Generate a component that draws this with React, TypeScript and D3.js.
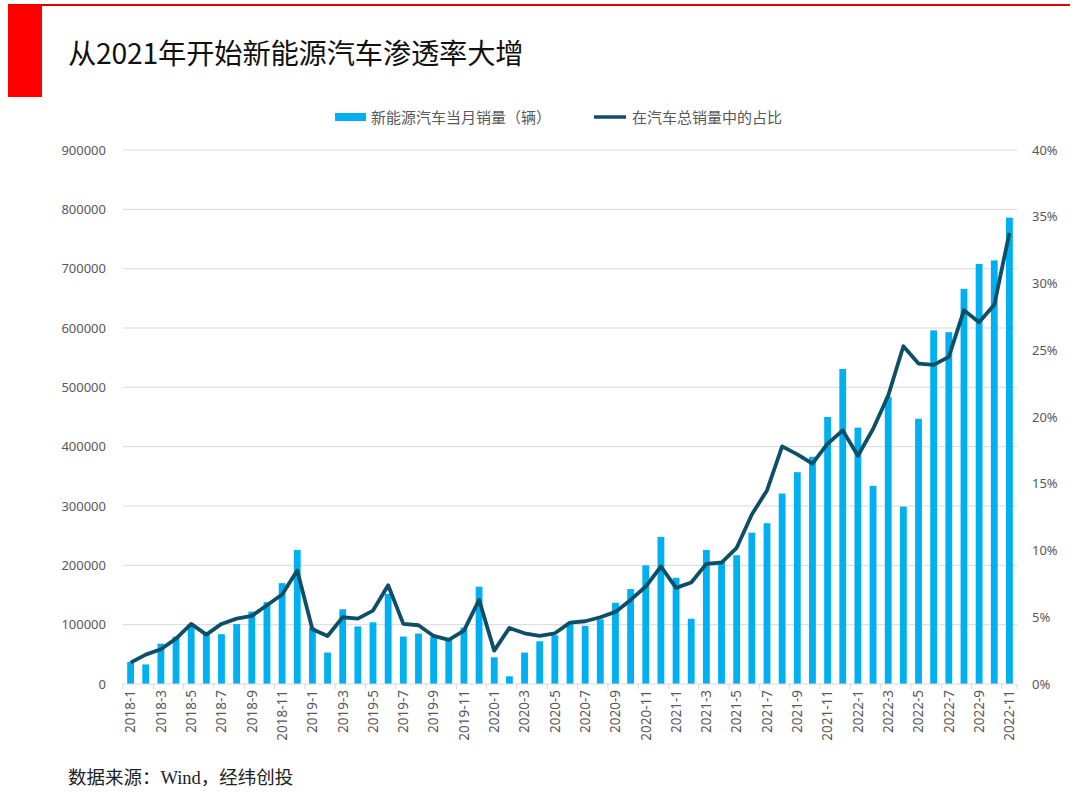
import React from 'react';
import * as d3 from 'd3';

const months = [
  '2018-1', '2018-2', '2018-3', '2018-4', '2018-5', '2018-6', '2018-7', '2018-8', '2018-9', '2018-10', '2018-11', '2018-12',
  '2019-1', '2019-2', '2019-3', '2019-4', '2019-5', '2019-6', '2019-7', '2019-8', '2019-9', '2019-10', '2019-11', '2019-12',
  '2020-1', '2020-2', '2020-3', '2020-4', '2020-5', '2020-6', '2020-7', '2020-8', '2020-9', '2020-10', '2020-11', '2020-12',
  '2021-1', '2021-2', '2021-3', '2021-4', '2021-5', '2021-6', '2021-7', '2021-8', '2021-9', '2021-10', '2021-11', '2021-12',
  '2022-1', '2022-2', '2022-3', '2022-4', '2022-5', '2022-6', '2022-7', '2022-8', '2022-9', '2022-10', '2022-11',
];

// 新能源汽车当月销量（辆）
const sales = [
  37000, 33000, 68000, 80000, 100000, 85000, 84000, 101000, 122000, 138000, 170000, 226000,
  95000, 53000, 126000, 97000, 104000, 152000, 80000, 85000, 80000, 75000, 95000, 164000,
  45000, 13000, 53000, 72000, 82000, 104000, 98000, 109000, 137000, 160000, 200000, 248000,
  179000, 110000, 226000, 206000, 217000, 255000, 271000, 321000, 357000, 383000, 450000, 531000,
  432000, 334000, 484000, 299000, 447000, 596000, 593000, 666000, 708000, 714000, 786000,
];

// 在汽车总销量中的占比 (%)
const share = [
  1.6, 2.2, 2.6, 3.4, 4.5, 3.7, 4.5, 4.9, 5.1, 5.9, 6.7, 8.5,
  4.1, 3.6, 5.0, 4.9, 5.5, 7.4, 4.5, 4.4, 3.6, 3.3, 4.0, 6.3,
  2.5, 4.2, 3.8, 3.6, 3.8, 4.6, 4.7, 5.0, 5.4, 6.3, 7.3, 8.8,
  7.2, 7.6, 9.0, 9.1, 10.2, 12.7, 14.5, 17.8, 17.2, 16.5, 18.0, 19.0,
  17.1, 19.1, 21.6, 25.3, 24.0, 23.9, 24.5, 28.0, 27.1, 28.4, 33.8,
];

const leftTicks = [0, 100000, 200000, 300000, 400000, 500000, 600000, 700000, 800000, 900000];
const rightTicks = [0, 5, 10, 15, 20, 25, 30, 35, 40];

const title = '从2021年开始新能源汽车渗透率大增';
const barName = '新能源汽车当月销量（辆）';
const lineName = '在汽车总销量中的占比';
const source = '数据来源：Wind，经纬创投';

const W = 1080;
const H = 795;
const m = { left: 123, right: 1017, top: 150, bottom: 684 };
const barColor = '#00b0f0';
const lineColor = '#0d4f66';
const textColor = '#595959';
const cjk = '"Noto Sans CJK SC", "Noto Sans", sans-serif';
const latin = "'Noto Sans', sans-serif";

export default function App() {
  const x = d3.scaleBand<string>().domain(months).range([m.left, m.right]).paddingInner(0.55).paddingOuter(0.275);
  const xc = (d: string) => (x(d) ?? 0) + x.bandwidth() / 2;
  const step = x.step();
  const yL = d3.scaleLinear().domain([0, 900000]).range([m.bottom, m.top]);
  const yR = d3.scaleLinear().domain([0, 40]).range([m.bottom, m.top]);

  const line = d3
    .line<number>()
    .x((_, i) => xc(months[i]))
    .y((d) => yR(d));

  const tickIdx = months.map((_, i) => i).filter((i) => i % 2 === 0);

  return (
    <svg
      width={W}
      height={H}
      style={{ position: 'absolute', left: 0, top: 0, background: '#fff' }}
      fontFamily={cjk}
    >
      {/* header */}
      <line x1={8} x2={1070} y1={5} y2={5} stroke="#e00000" strokeWidth={2} />
      <rect x={8} y={5} width={34} height={92} fill="#ff0000" />
      <text x={68} y={64} fontSize={28.3} fill="#111" fontFamily={cjk} letterSpacing={-0.2}>
        {title}
      </text>

      {/* legend */}
      <rect x={335} y={113} width={31} height={8} fill={barColor} />
      <text x={371} y={122.5} fontSize={15} fill={textColor}>{barName}</text>
      <line x1={594} x2={626} y1={117} y2={117} stroke={lineColor} strokeWidth={3.5} />
      <text x={632} y={122.5} fontSize={15} fill={textColor}>{lineName}</text>

      {/* grid + left axis */}
      {leftTicks.map((t) => (
        <g key={t}>
          {t > 0 && (
            <line x1={m.left} x2={m.right} y1={yL(t)} y2={yL(t)} stroke="#d9d9d9" strokeWidth={1} />
          )}
          <text x={106} y={yL(t) + 4.5} fontSize={13} fill={textColor} textAnchor="end" fontFamily={latin}>
            {t}
          </text>
        </g>
      ))}
      {rightTicks.map((t) => (
        <text key={t} x={1032} y={yR(t) + 4.5} fontSize={13} fill={textColor} fontFamily={latin}>
          {t + '%'}
        </text>
      ))}

      {/* bars */}
      {sales.map((v, i) => (
        <rect
          key={months[i]}
          x={x(months[i])}
          y={yL(v)}
          width={x.bandwidth()}
          height={yL(0) - yL(v)}
          fill={barColor}
        />
      ))}

      {/* x axis */}
      <line x1={m.left} x2={m.right} y1={m.bottom} y2={m.bottom} stroke="#d9d9d9" strokeWidth={1} />
      {tickIdx.map((i) => (
        <line
          key={'t' + i}
          x1={m.left + i * step}
          x2={m.left + i * step}
          y1={m.bottom}
          y2={m.bottom + 5}
          stroke="#d9d9d9"
        />
      ))}
      <line x1={m.right} x2={m.right} y1={m.bottom} y2={m.bottom + 5} stroke="#d9d9d9" />
      {tickIdx.map((i) => (
        <text
          key={'l' + i}
          transform={`translate(${xc(months[i]) + 4.8},${m.bottom + 6}) rotate(-90)`}
          textAnchor="end"
          fontSize={13.5}
          fill={textColor}
          fontFamily={latin}
        >
          {months[i]}
        </text>
      ))}

      {/* share line */}
      <path d={line(share) ?? ''} fill="none" stroke={lineColor} strokeWidth={3.8} strokeLinejoin="round" />

      {/* footer */}
      <text x={68} y={784} fontSize={18.5} fill="#222" fontFamily={'"Liberation Serif", "Noto Sans CJK SC", serif'}>
        {source}
      </text>
    </svg>
  );
}
